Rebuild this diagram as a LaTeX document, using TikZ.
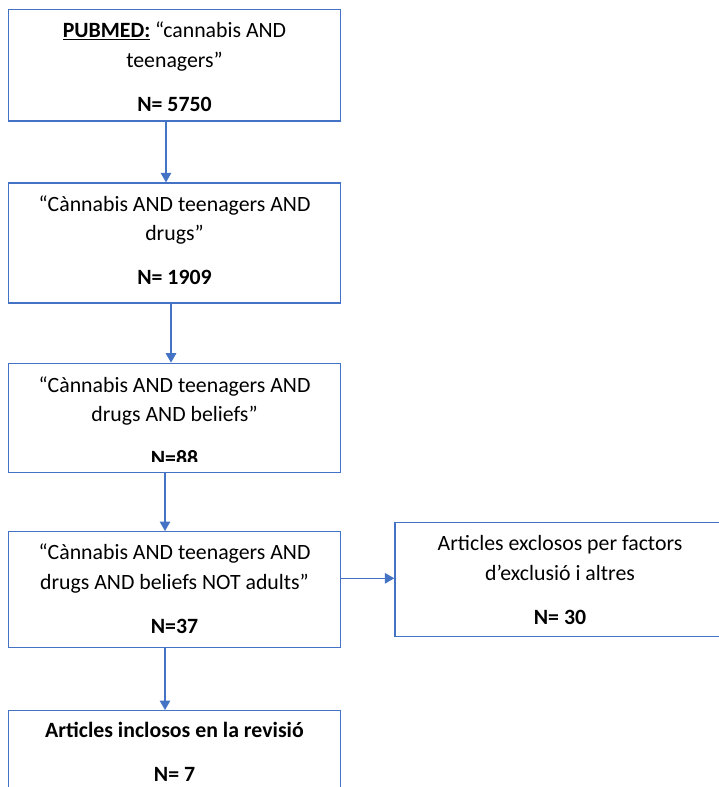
\documentclass[tikz,border=0pt]{standalone}
\usepackage{fontspec}
\setmainfont{Carlito}
\usetikzlibrary{arrows.meta,positioning}
\definecolor{wordblue}{HTML}{4472C4}
\tikzset{
  stage/.style={draw=wordblue, line width=1.3pt, minimum width=332pt, inner sep=0pt},
  stagetext/.style={anchor=base, align=center, inner sep=0pt, font=\fontsize{21.8}{29.5}\selectfont},
  flow/.style={draw=wordblue, line width=1.3pt, -{Triangle[width=10.5pt,length=9.5pt]}}
}
\begin{document}
\begin{tikzpicture}[x=1pt,y=-1pt]
\useasboundingbox (0,0) rectangle (719,787);

% Boxes of the search, from top to bottom
\node [stage, minimum height=111.5pt] (pubmed) at (174.5,65.25) {};
\node [stage, minimum height=120pt] (drugs) at (174.5,243) {};
\node [stage, minimum height=109pt] (beliefs) at (174.5,417.8) {};
\node [stage, minimum height=115.6pt] (adults) at (174.5,589.5) {};
\node [stage, minimum width=330pt, minimum height=114pt] (excluded) at (560,579.7) {};
\node [stage, minimum height=120pt] (included) at (174.5,770.7) {};

% Texts of the boxes (placed at the baseline of their last line)
\node [stagetext] (pubmedtext) at (174.5,111)
  {\underline{\textbf{PUBMED:}} “cannabis AND\\ teenagers”\\[14.5pt] \textbf{N= 5750}};
\node [stagetext] (drugstext) at (174.5,284.5)
  {“Cànnabis AND teenagers AND\\ drugs”\\[14.5pt] \textbf{N= 1909}};
\begin{scope}
\clip (8.5,363) rectangle (340.5,461);
\node [stagetext] (beliefstext) at (174.5,465.8)
  {“Cànnabis AND teenagers AND\\[-0.3pt] drugs AND beliefs”\\[14.5pt] \textbf{N=88}};
\end{scope}
\node [stagetext] (adultstext) at (174.5,633.2)
  {“Cànnabis AND teenagers AND\\ drugs AND beliefs NOT adults”\\[14.5pt] \textbf{N=37}};
\node [stagetext] (excludedtext) at (560,624.2)
  {Articles exclosos per factors\\ d’exclusió i altres\\[14.5pt] \textbf{N= 30}};
\node [stagetext] (includedtext) at (174.5,781.7)
  {\textbf{Articles inclosos en la revisió}\\[14.5pt] \textbf{N= 7}};

% Arrows between the boxes
\draw [flow] ([xshift=-8.5pt]pubmed.south) -- ([xshift=-8.5pt]drugs.north);
\draw [flow] ([xshift=-3.5pt]drugs.south) -- ([xshift=-3.5pt]beliefs.north);
\draw [flow] ([xshift=-9.5pt]beliefs.south) -- ([xshift=-9.5pt]adults.north);
\draw [flow] ([xshift=-9.5pt]adults.south) -- ([xshift=-9.5pt]included.north);
\draw [flow] ([yshift=11.2pt]adults.east) coordinate (fork) -- (fork -| excluded.west);

\end{tikzpicture}
\end{document}
